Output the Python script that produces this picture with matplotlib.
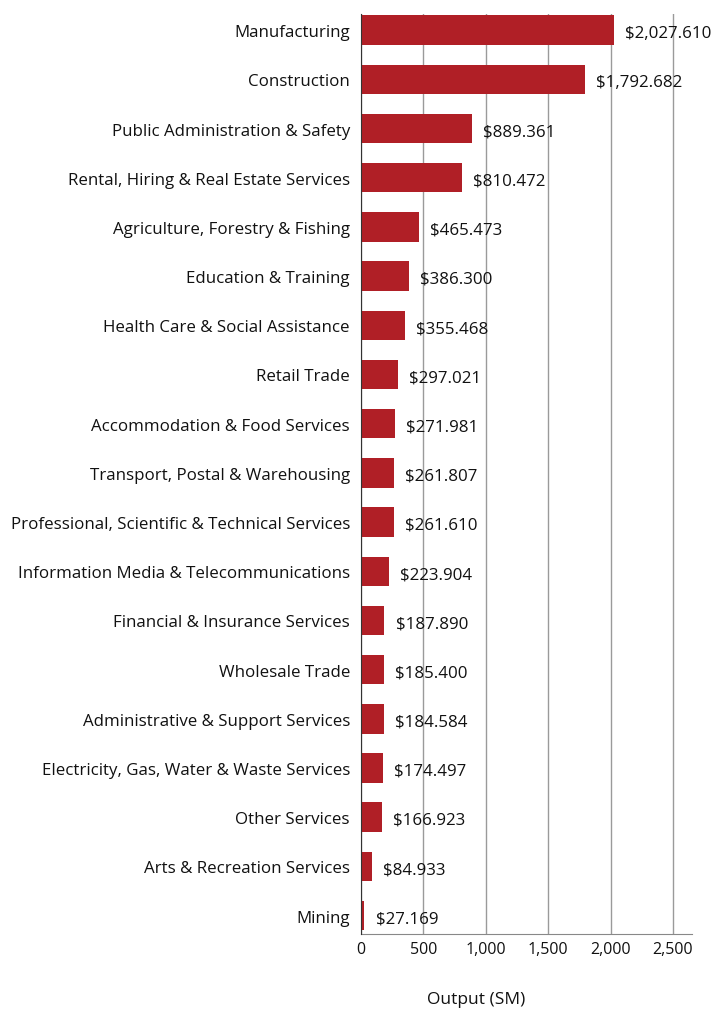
import matplotlib as mpl
mpl.use('Agg')
import matplotlib.pyplot as plt

plt.rcParams['font.family'] = ['Open Sans', 'DejaVu Sans']

# data (top to bottom)
industries = [
    "Manufacturing",
    "Construction",
    "Public Administration & Safety",
    "Rental, Hiring & Real Estate Services",
    "Agriculture, Forestry & Fishing",
    "Education & Training",
    "Health Care & Social Assistance",
    "Retail Trade",
    "Accommodation & Food Services",
    "Transport, Postal & Warehousing",
    "Professional, Scientific & Technical Services",
    "Information Media & Telecommunications",
    "Financial & Insurance Services",
    "Wholesale Trade",
    "Administrative & Support Services",
    "Electricity, Gas, Water & Waste Services",
    "Other Services",
    "Arts & Recreation Services",
    "Mining",
]
output = [2027.610, 1792.682, 889.361, 810.472, 465.473, 386.300, 355.468,
          297.021, 271.981, 261.807, 261.610, 223.904, 187.890, 185.400,
          184.584, 174.497, 166.923, 84.933, 27.169]
x_ticks = [0, 500, 1000, 1500, 2000, 2500]

bar_color = "#B01F26"

fig = plt.figure(figsize=(7.28, 10.12), dpi=100)
ax = fig.add_axes([0.4959, 0.0761, 0.4546, 0.9089])

pos = list(range(len(industries)))
ax.barh(pos, output, height=0.6, color=bar_color, zorder=3)

for p, v in zip(pos, output):
    ax.annotate(f"${v:,.3f}", (v, p), xytext=(8, -2), textcoords="offset points",
                ha="left", va="center", fontsize=12.2, color="#111111")

ax.set_yticks(pos)
ax.set_yticklabels(industries, fontsize=12.2, color="#111111")
ax.set_ylim(len(industries) - 1 + 0.374, -0.325)
ax.set_xlim(0, 2652)
ax.set_xticks(x_ticks)
ax.set_xticklabels([f"{t:,}" for t in x_ticks], fontsize=11.5, color="#111111")
ax.tick_params(axis='y', length=0, pad=8)
ax.tick_params(axis='x', length=0, pad=5)

ax.grid(axis='x', color="#9a9a9a", linewidth=1.0, zorder=0)
for s in ['top', 'right']:
    ax.spines[s].set_visible(False)
ax.spines['left'].set_color("#333333")
ax.spines['bottom'].set_color("#888888")
ax.spines['left'].set_zorder(4)

fig.text(476 / 728, 1 - 1000 / 1012, "Output (SM)", fontsize=12.5,
         ha="center", va="center", color="#111111")

fig.savefig("out.png", dpi=100)
